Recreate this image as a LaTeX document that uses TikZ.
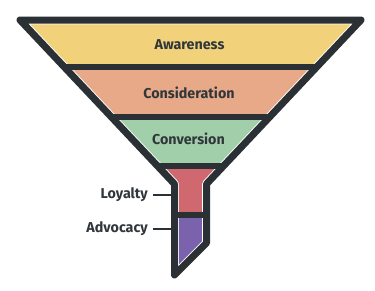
\documentclass[tikz,border=0pt]{standalone}
\usepackage{fontspec}
\setmainfont{Fira Sans}
\definecolor{dark}{HTML}{2B3035}
\definecolor{txt}{HTML}{30363B}
\definecolor{cyel}{HTML}{F1D27A}
\definecolor{cora}{HTML}{E8A988}
\definecolor{cgre}{HTML}{A1CFAA}
\definecolor{cred}{HTML}{D0686F}
\definecolor{cpur}{HTML}{7A63AC}
\tikzset{
  lbl/.style={font=\fontsize{14.3}{16}\selectfont\bfseries, text=txt, inner sep=0pt},
  sepband/.style={fill=dark},
  tick/.style={draw=dark, line width=2.6pt},
}
\begin{document}
\begin{tikzpicture}[x=1pt,y=-1pt]
\useasboundingbox (0,0) rectangle (375,290);
\def\funnel{(20,20) -- (361,20) -- (206.5,184) -- (206.5,243) -- (174.5,275) -- (174.5,184) -- cycle}
\begin{scope}
  \clip \funnel;
  \fill[cyel] (0,0) rectangle (375,63.5);
  \fill[cora] (0,63.5) rectangle (375,113.5);
  \fill[cgre] (0,113.5) rectangle (375,163);
  \fill[cred] (0,163) rectangle (375,211.5);
  \fill[cpur] (0,211.5) rectangle (375,290);
\end{scope}
\draw[white, line width=8.8pt, line join=round] \funnel;
\begin{scope}
  \clip \funnel;
  \fill[sepband] (0,63.5) rectangle (375,70);
  \fill[sepband] (0,113.5) rectangle (375,119.5);
  \fill[sepband] (0,163) rectangle (375,169);
  \fill[sepband] (0,211.5) rectangle (375,217.5);
\end{scope}
\draw[dark, line width=7pt, line join=round] \funnel;
\node[lbl] (aw) at (189.5,44.5) {Awareness};
\node[lbl] (co) at (189,92.5) {Consideration};
\node[lbl] (cv) at (188.5,139) {Conversion};
\node[lbl, anchor=east] (loy) at (148,195) {Loyalty};
\node[lbl, anchor=east] (adv) at (148,229) {Advocacy};
\coordinate (loyend) at (172,195);
\coordinate (advend) at (172,229);
\draw[tick] ([xshift=5pt]loy.east) -- (loyend);
\draw[tick] ([xshift=5pt]adv.east) -- (advend);
\end{tikzpicture}
\end{document}
